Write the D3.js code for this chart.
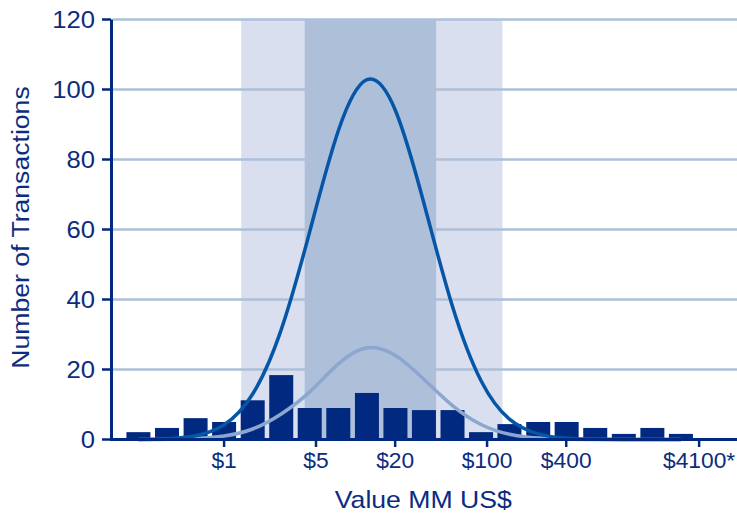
<!DOCTYPE html>
<html><head><meta charset="utf-8">
<script src="https://cdn.jsdelivr.net/npm/d3@7"></script>
<style>
body{margin:0;background:#fff}
svg{display:block}
text{font-family:"Liberation Sans",Arial,Helvetica,sans-serif;fill:#0b2c80}
</style>
</head><body>
<svg id="chart" width="737" height="514"></svg>
<script>
// ---- data ----
const binMids = [0.223, 0.368, 0.607, 1, 1.65, 2.72, 4.48, 7.39, 12.2, 20.1, 33.1, 54.6, 90, 148, 245, 403, 665, 1097, 1808, 2981];
const counts  = [2.1, 3.3, 6.1, 5, 11.2, 18.4, 9, 9, 13.3, 9, 8.4, 8.4, 2.1, 4.4, 5, 5, 3.3, 1.6, 3.3, 1.6];
const fitFull   = [0.03, 0.22, 1.08, 4.2, 13.0, 31.4, 59.4, 88.2, 102.8, 94.0, 67.5, 38.0, 16.8, 5.8, 1.6, 0.34, 0.06, 0.01, 0, 0];
const fitScaled = [0.01, 0.06, 0.27, 1.0, 3.0, 7.3, 13.6, 21.6, 26.2, 24.0, 17.2, 9.7, 4.3, 1.5, 0.4, 0.09, 0.02, 0, 0, 0];
const bandOuter = [1.35, 131];
const bandInner = [4.1, 41];
const xTickValues = [1, 5, 20, 100, 400, 4100];
const xTickLabels = ["$1", "$5", "$20", "$100", "$400", "$4100*"];
const yTickValues = [0, 20, 40, 60, 80, 100, 120];
const xExtent = [0.138, 7960];
const yExtent = [0, 120];

// ---- layout ----
const mLeft = 111, mRight = 737, mTop = 19.5, mBottom = 439.5;
const navy = "#00297f", grid = "#adbfd9", bandLight = "#d9dfee", bandDark = "#aebfda";
const curveDark = "#0656a8", curveLight = "#8ba7d0";
const stretch = 1.1;

const svg = d3.select("#chart");
const x = d3.scaleLog().domain(xExtent).range([mLeft, mRight]);
const y = d3.scaleLinear().domain(yExtent).range([mBottom, mTop]);

// bands
svg.append("rect").attr("x", x(bandOuter[0])).attr("width", x(bandOuter[1]) - x(bandOuter[0]))
  .attr("y", y(120)).attr("height", y(0) - y(120)).attr("fill", bandLight);
svg.append("rect").attr("x", x(bandInner[0])).attr("width", x(bandInner[1]) - x(bandInner[0]))
  .attr("y", y(120)).attr("height", y(0) - y(120)).attr("fill", bandDark);

// gridlines
svg.append("g").selectAll("line").data(yTickValues.filter(d => d > 0)).join("line")
  .attr("x1", mLeft + 2).attr("x2", mRight).attr("y1", d => y(d)).attr("y2", d => y(d))
  .attr("stroke", grid).attr("stroke-width", 2.3);

// bars
const barW = 24;
svg.append("g").selectAll("rect").data(binMids).join("rect")
  .attr("x", (d) => x(d) - barW / 2).attr("width", barW)
  .attr("y", (d, i) => y(counts[i])).attr("height", (d, i) => y(0) - y(counts[i]))
  .attr("fill", navy);

// curves
const line = d3.line().x(d => x(d[0])).y(d => y(d[1])).curve(d3.curveNatural);
svg.append("path").datum(binMids.map((m, i) => [m, fitScaled[i]]))
  .attr("d", line).attr("fill", "none").attr("stroke", curveLight).attr("stroke-width", 3.5);
svg.append("path").datum(binMids.map((m, i) => [m, fitFull[i]]))
  .attr("d", line).attr("fill", "none").attr("stroke", curveDark).attr("stroke-width", 3.5);

// axes lines
svg.append("line").attr("x1", mLeft + 0.5).attr("x2", mLeft + 0.5).attr("y1", mTop).attr("y2", mBottom + 1.5)
  .attr("stroke", navy).attr("stroke-width", 3);
svg.append("line").attr("x1", mLeft - 1).attr("x2", mRight).attr("y1", mBottom).attr("y2", mBottom)
  .attr("stroke", navy).attr("stroke-width", 3);

// y ticks
const yt = svg.append("g").selectAll("g").data(yTickValues).join("g");
yt.append("line").attr("x1", mLeft - 9).attr("x2", mLeft).attr("y1", d => y(d)).attr("y2", d => y(d))
  .attr("stroke", navy).attr("stroke-width", 2.5);
yt.append("text").attr("transform", d => `translate(95,${y(d) + 8.3}) scale(${stretch},1)`)
  .attr("text-anchor", "end").attr("font-size", 23.3).text(d => d);

// x ticks
const xt = svg.append("g").selectAll("g").data(xTickValues).join("g");
xt.append("line").attr("x1", d => x(d)).attr("x2", d => x(d)).attr("y1", mBottom + 1).attr("y2", mBottom + 7.5)
  .attr("stroke", navy).attr("stroke-width", 2.5);
xt.append("text").attr("x", d => x(d)).attr("y", 467.7)
  .attr("text-anchor", "middle").attr("font-size", 22.8).text((d, i) => xTickLabels[i]);

// titles
svg.append("text").attr("transform", `translate(423.3,508) scale(${stretch},1)`)
  .attr("text-anchor", "middle").attr("font-size", 24.2).text("Value MM US$");
svg.append("text").attr("transform", `translate(28.5,227.5) rotate(-90) scale(${stretch},1)`)
  .attr("text-anchor", "middle").attr("font-size", 24.2).text("Number of Transactions");
</script>
</body></html>
